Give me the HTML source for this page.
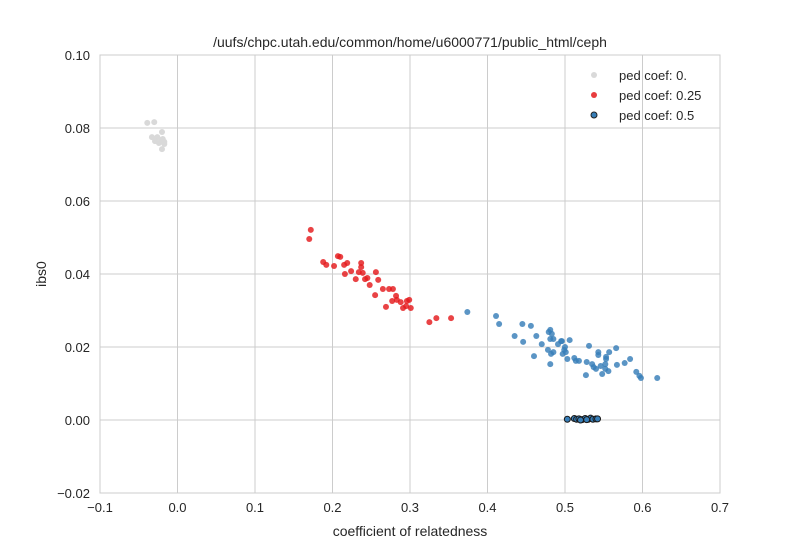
<!DOCTYPE html>
<html><head><meta charset="utf-8"><style>
body{margin:0;background:#fff;font-family:"Liberation Sans",sans-serif}
svg text{font-family:"Liberation Sans",sans-serif;fill:#262626}
</style></head><body>
<svg id="chart" width="800" height="550" xmlns="http://www.w3.org/2000/svg">
<rect x="0" y="0" width="800" height="550" fill="#fff"/>
<g id="grid"></g>
<rect x="100" y="55" width="620" height="438" fill="none" stroke="#cccccc" stroke-width="1"/>
<g id="ticks"></g>
<g id="pts"></g>
<text x="410" y="47" text-anchor="middle" font-size="14">/uufs/chpc.utah.edu/common/home/u6000771/public_html/ceph</text>
<text x="410" y="536" text-anchor="middle" font-size="14">coefficient of relatedness</text>
<text x="46" y="274" text-anchor="middle" font-size="14" transform="rotate(-90 46 274)">ibs0</text>
<g id="legend">
<circle cx="594" cy="75" r="3" fill="#d9d9d9"/>
<text x="619" y="80" font-size="13">ped coef: 0.</text>
<circle cx="594" cy="95" r="3" fill="#e41a1c" fill-opacity="0.85"/>
<text x="619" y="100" font-size="13">ped coef: 0.25</text>
<circle cx="594" cy="115" r="3" fill="#377eb8" stroke="#222" stroke-width="1"/>
<text x="619" y="120" font-size="13">ped coef: 0.5</text>
</g>
</svg>
<script>
const xTicks=[-0.1,0,0.1,0.2,0.3,0.4,0.5,0.6,0.7];
const xTickLabels=["\u22120.1","0.0","0.1","0.2","0.3","0.4","0.5","0.6","0.7"];
const yTicks=[-0.02,0,0.02,0.04,0.06,0.08,0.10];
const yTickLabels=["\u22120.02","0.00","0.02","0.04","0.06","0.08","0.10"];
const grayX=[-0.039,-0.030,-0.033,-0.026,-0.020,-0.029,-0.021,-0.017,-0.017,-0.020,-0.019,-0.024];
const grayY=[0.0814,0.0816,0.0775,0.0775,0.0789,0.0764,0.0767,0.0762,0.0756,0.0742,0.0770,0.0759];
const redX=[0.172,0.170,0.188,0.192,0.207,0.210,0.202,0.215,0.219,0.216,0.224,0.237,0.237,0.234,0.239,0.230,0.242,0.245,0.256,0.259,0.248,0.265,0.273,0.278,0.255,0.282,0.277,0.283,0.288,0.299,0.296,0.269,0.291,0.295,0.301,0.325,0.334,0.353];
const redY=[0.0521,0.0496,0.0433,0.0425,0.0449,0.0447,0.0422,0.0425,0.0430,0.0400,0.0408,0.0430,0.0419,0.0405,0.0403,0.0386,0.0386,0.0389,0.0405,0.0384,0.0370,0.0359,0.0359,0.0359,0.0342,0.0340,0.0326,0.0329,0.0323,0.0329,0.0326,0.0310,0.0307,0.0312,0.0307,0.0268,0.0279,0.0279];
const blueX=[0.374,0.411,0.415,0.445,0.456,0.435,0.446,0.463,0.481,0.479,0.483,0.481,0.485,0.470,0.460,0.478,0.485,0.482,0.496,0.495,0.491,0.506,0.500,0.499,0.501,0.497,0.503,0.481,0.512,0.514,0.518,0.531,0.543,0.543,0.557,0.566,0.553,0.553,0.528,0.535,0.537,0.540,0.546,0.552,0.552,0.556,0.548,0.527,0.567,0.577,0.584,0.592,0.596,0.598,0.619];
const blueY=[0.0296,0.0285,0.0263,0.0263,0.0258,0.0230,0.0214,0.0230,0.0247,0.0241,0.0236,0.0222,0.0222,0.0208,0.0175,0.0192,0.0186,0.0181,0.0216,0.0216,0.0208,0.0219,0.0200,0.0192,0.0186,0.0181,0.0167,0.0153,0.0170,0.0162,0.0162,0.0203,0.0186,0.0178,0.0186,0.0197,0.0173,0.0167,0.0159,0.0153,0.0145,0.0140,0.0148,0.0153,0.0140,0.0134,0.0126,0.0123,0.0151,0.0156,0.0167,0.0132,0.0121,0.0115,0.0115];
const halfX=[0.503,0.512,0.515,0.518,0.522,0.526,0.530,0.533,0.536,0.540,0.542,0.520,0.528];
const halfY=[0.0002,0.0004,0.0002,0.0003,0.0001,0.0004,0.0002,0.0005,0.0002,0.0003,0.0003,0.0000,0.0001];
const NS='http://www.w3.org/2000/svg';
const xs=v=>100+(v+0.1)/0.8*620;
const ys=v=>493-(v+0.02)/0.12*438;
const grid=document.getElementById('grid'),ticks=document.getElementById('ticks'),pts=document.getElementById('pts');
function mk(t,a,p){const e=document.createElementNS(NS,t);for(const k in a)e.setAttribute(k,a[k]);p.appendChild(e);return e;}
xTicks.forEach((v,i)=>{
 const l=mk('line',{x1:xs(v),x2:xs(v),y1:55,y2:493,stroke:'#cccccc'},grid);
 
 
 const t=mk('text',{x:xs(v),y:512,'text-anchor':'middle','font-size':13},ticks);
 t.textContent=xTickLabels[i];
 
 
});
yTicks.forEach((v,i)=>{
 const l=mk('line',{x1:100,x2:720,y1:ys(v),y2:ys(v),stroke:'#cccccc'},grid);
 
 
 const t=mk('text',{x:90,y:ys(v)+5,'text-anchor':'end','font-size':13},ticks);
 t.textContent=yTickLabels[i];
 
 
});
function series(X,Y,attrs,name){
 X.forEach((x,i)=>{
  const c=mk('circle',Object.assign({cx:xs(x),cy:ys(Y[i]),r:3},attrs),pts);
  
  
 });
}
series(grayX,grayY,{fill:'#d9d9d9'},'point-coef-0');
series(redX,redY,{fill:'#e41a1c','fill-opacity':0.82},'point-coef-025');
series(blueX,blueY,{fill:'#377eb8','fill-opacity':0.82},'point-unrelated-blue');
series(halfX,halfY,{fill:'#377eb8',stroke:'#1a1a1a','stroke-width':1},'point-coef-05');
</script>
</body></html>
